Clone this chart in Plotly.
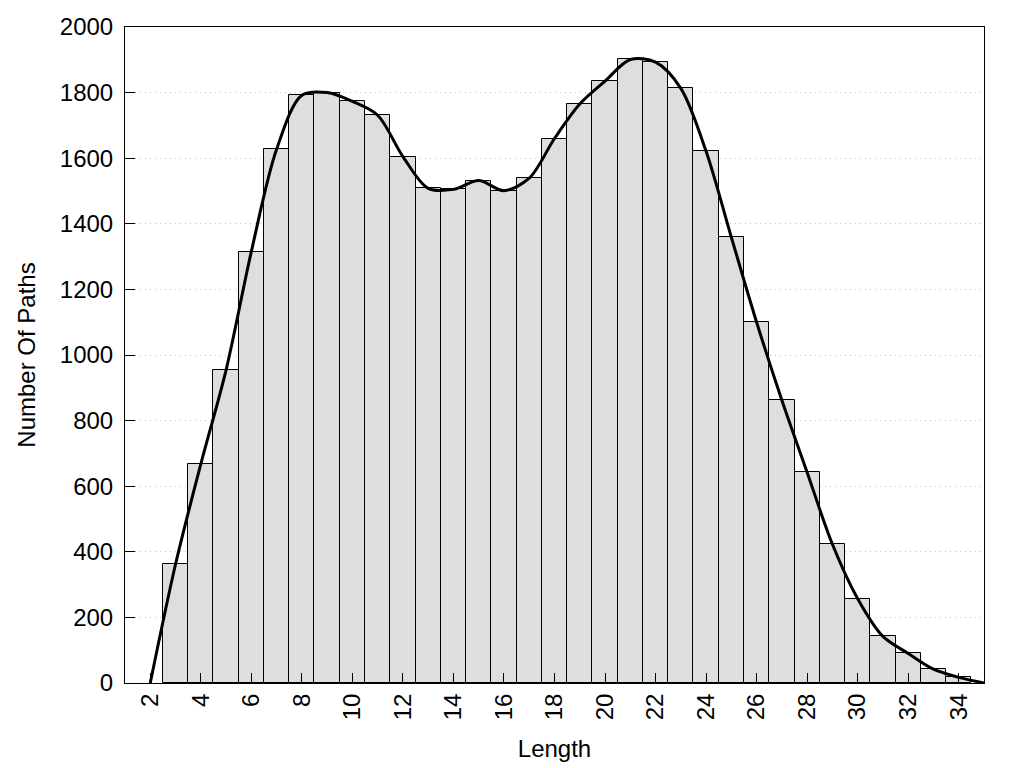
import plotly.graph_objects as go

# Path length histogram
lengths = list(range(3, 35))
counts = [362, 667, 954, 1315, 1627, 1792, 1800, 1773, 1731, 1605,
          1508, 1505, 1532, 1501, 1539, 1660, 1765, 1835, 1901, 1893,
          1813, 1621, 1359, 1100, 862, 642, 423, 257, 142, 90, 42, 17]

# smoothed curve (through bar tops, anchored at zero at both ends)
curve_x = [2] + lengths + [35]
curve_y = [0] + counts + [0]

x_ticks = list(range(2, 35, 2))
y_ticks = list(range(0, 2001, 200))

FONT = "Liberation Sans, Arial, sans-serif"

fig = go.Figure()
fig.add_trace(go.Bar(
    x=lengths, y=counts, width=1,
    marker=dict(color="#dedede", line=dict(color="black", width=1)),
    showlegend=False,
))
fig.add_trace(go.Scatter(
    x=curve_x, y=curve_y, mode="lines",
    line=dict(color="black", width=3, shape="spline", smoothing=0.9),
    showlegend=False,
))

fig.update_layout(
    width=1024, height=768,
    margin=dict(l=117, r=48, t=19, b=93),
    plot_bgcolor="white", paper_bgcolor="white",
    font=dict(family=FONT, size=24, color="black"),
    bargap=0,
)
fig.update_xaxes(
    range=[1, 35], tickvals=x_ticks, ticktext=[str(v) for v in x_ticks],
    tickangle=-90, ticks="inside", ticklen=10, tickcolor="black",
    showline=True, linecolor="black", linewidth=1, mirror=True,
    showgrid=False, zeroline=False, automargin=False,
    title=dict(text="Length", font=dict(size=24), standoff=20),
)
fig.update_yaxes(
    range=[0, 2000], tickvals=y_ticks, ticktext=[str(v) for v in y_ticks],
    ticks="inside", ticklen=10, tickcolor="black",
    showline=True, linecolor="black", linewidth=1, mirror=True,
    showgrid=True, gridcolor="#bdbdbd", griddash="1px,4px", gridwidth=1,
    zeroline=False, automargin=False,
    title=dict(text="Number Of Paths", font=dict(size=24), standoff=17),
    ticklabelstandoff=6,
)

fig.write_html("out.html")
